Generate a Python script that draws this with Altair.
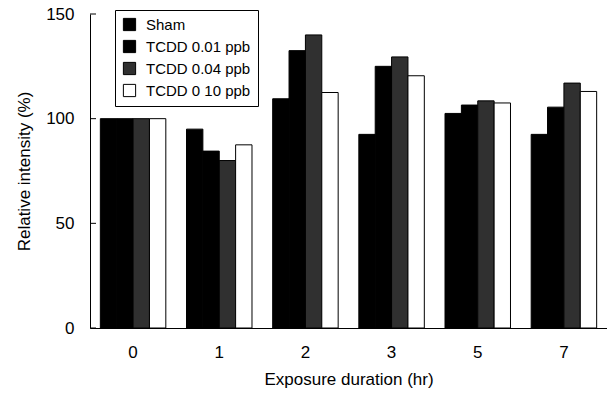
import altair as alt
import pandas as pd

times = ["0", "1", "2", "3", "5", "7"]
series = ["Sham", "TCDD 0.01 ppb", "TCDD 0.04 ppb", "TCDD 0 10 ppb"]
sham = [100, 95, 109.5, 92.5, 102.5, 92.5]
t001 = [100, 84.5, 132.5, 125, 106.5, 105.5]
t004 = [100, 80, 140, 129.5, 108.5, 117]
t010 = [100, 87.5, 112.5, 120.5, 107.5, 113]
fills = ["#000000", "#000000", "#303030", "#ffffff"]
ytick_vals = [0, 50, 100, 150]

rows = []
for s, vals in zip(series, [sham, t001, t004, t010]):
    for t, v in zip(times, vals):
        rows.append({"time": t, "series": s, "value": v})
df = pd.DataFrame(rows)
ticks = pd.DataFrame({"v": ytick_vals})

FONT = "Liberation Sans"

yaxis = alt.Axis(title="Relative intensity (%)", values=ytick_vals, ticks=False,
                 grid=False, domainColor="black", labelFontSize=17, labelPadding=16,
                 titleFontSize=17, titleFontWeight="normal", titlePadding=12,
                 labelFont=FONT, titleFont=FONT, labelColor="black", titleColor="black")
yscale = alt.Scale(domain=[0, 150], nice=False)

bars = alt.Chart(df).mark_bar(stroke="black", strokeWidth=1).encode(
    x=alt.X("time:N", sort=times,
            scale=alt.Scale(paddingInner=0.24, paddingOuter=0.12),
            axis=alt.Axis(title="Exposure duration (hr)", labelAngle=0, ticks=False,
                          domainColor="black", labelFontSize=17, labelPadding=16,
                          titleFontSize=17, titleFontWeight="normal", titlePadding=11,
                          labelFont=FONT, titleFont=FONT, labelColor="black", titleColor="black")),
    xOffset=alt.XOffset("series:N", sort=series),
    y=alt.Y("value:Q", scale=yscale, axis=yaxis),
    fill=alt.Fill("series:N", sort=series,
                  scale=alt.Scale(domain=series, range=fills),
                  legend=alt.Legend(title=None, orient="none", legendX=25, legendY=-4,
                                    strokeColor="black", fillColor="white", padding=7,
                                    symbolType="square", symbolSize=150,
                                    symbolStrokeColor="black", symbolStrokeWidth=1,
                                    labelFontSize=15, labelFont=FONT, labelColor="black",
                                    rowPadding=5, labelOffset=9)),
)

tickmarks = alt.Chart(ticks).mark_rule(color="black", strokeWidth=1).encode(
    x=alt.value(0), x2=alt.value(6), y=alt.Y("v:Q", scale=yscale, axis=yaxis)
)

chart = alt.layer(bars, tickmarks).properties(
    width=517, height=314,
    background="white",
    autosize=alt.AutoSizeParams(type="none"),
    padding={"left": 90, "top": 14, "right": 0, "bottom": 68},
).configure_view(stroke=None).configure_axis(grid=False)

chart.save("out.html", embed_options={"renderer": "svg", "actions": False})
